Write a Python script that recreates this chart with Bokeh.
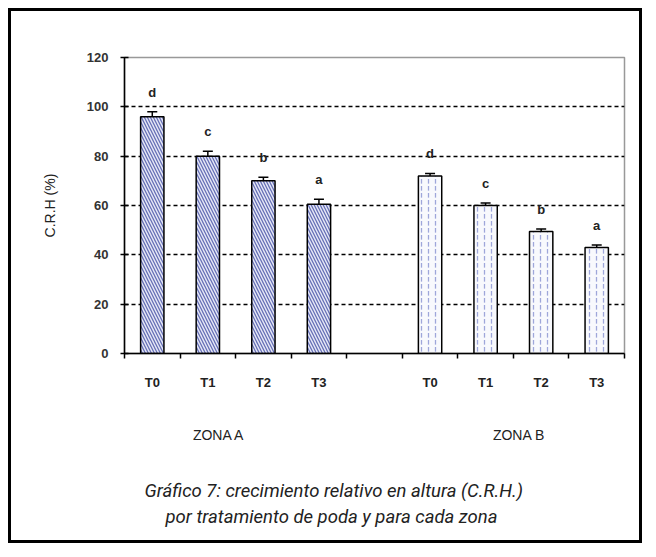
from bokeh.plotting import figure
from bokeh.models import Range1d, FixedTicker, Whisker, ColumnDataSource, TeeHead, LinearAxis, Title
from bokeh.embed import file_html
from bokeh.resources import INLINE
from bokeh.core.properties import value

treatments = ["T0", "T1", "T2", "T3"]
zona_a = [96, 80, 70, 60.5]
zona_b = [72, 60, 49.5, 43]
err_a = [2, 2, 1.5, 2]
err_b = [1, 1, 1, 1]
letters = ["d", "c", "b", "a"]
zones = ["ZONA A", "ZONA B"]
zone_pos = [1.7, 7.1]
y_ticks = [0, 20, 40, 60, 80, 100, 120]
grid_ticks = [20, 40, 60, 80, 100]
y_label = "C.R.H (%)"
caption = ["Gráfico 7: crecimiento relativo en altura (C.R.H.)",
           "por tratamiento de poda y para cada zona"]

# slot positions: zone A slots 0..3, empty slot 4, zone B slots 5..8
xa = [i + 0.5 for i in range(4)]
xb = [i + 5.5 for i in range(4)]

p = figure(width=634, height=535, output_backend="svg", toolbar_location=None,
           x_range=Range1d(0, 9), y_range=Range1d(0, 120),
           min_border_left=113, min_border_top=46, min_border_right=21, min_border_bottom=193)
p.styles = {"border": "3px solid black", "margin": "8px"}
p.outline_line_color = "#999999"
p.outline_line_width = 1.5

src_a = ColumnDataSource(dict(x=xa, top=zona_a, upper=[v + e for v, e in zip(zona_a, err_a)],
                              lower=[v - e for v, e in zip(zona_a, err_a)], lab=letters))
src_b = ColumnDataSource(dict(x=xb, top=zona_b, upper=[v + e for v, e in zip(zona_b, err_b)],
                              lower=[v - e for v, e in zip(zona_b, err_b)], lab=letters))

p.vbar(x="x", top="top", bottom=0, width=0.42, source=src_a,
       fill_color="#e6e8f6", hatch_pattern="\\", hatch_color="#6670b6",
       hatch_scale=6, hatch_weight=1.3, line_color="black", line_width=1.5)
p.vbar(x="x", top="top", bottom=0, width=0.42, source=src_b,
       fill_color="#f8f9fd", hatch_pattern=":", hatch_color="#9ea6da",
       hatch_scale=7, hatch_weight=1.3, line_color="black", line_width=1.5)

for src in (src_a, src_b):
    p.add_layout(Whisker(source=src, base="x", upper="upper", lower="lower",
                         line_color="black", line_width=1.5,
                         upper_head=TeeHead(size=10, line_width=1.5),
                         lower_head=TeeHead(size=10, line_width=1.5)))
    p.text(x="x", y="upper", text="lab", source=src, y_offset=-12,
           text_align="center", text_baseline="bottom",
           text_font=value("Liberation Sans"), text_font_style="bold",
           text_font_size="13px", text_color="#222222")

p.xgrid.grid_line_color = None
p.ygrid.ticker = FixedTicker(ticks=grid_ticks)
p.ygrid.grid_line_color = "black"
p.ygrid.grid_line_dash = "4 3"
p.ygrid.grid_line_width = 1.5

p.yaxis.ticker = FixedTicker(ticks=y_ticks)
p.yaxis.axis_label = y_label
p.yaxis.axis_label_standoff = 26
p.yaxis.axis_label_text_font = "Liberation Sans"
p.yaxis.axis_label_text_font_style = "normal"
p.yaxis.axis_label_text_font_size = "14px"
p.yaxis.axis_label_text_color = "#222222"
p.yaxis.major_label_text_font = "Liberation Sans"
p.yaxis.major_label_text_font_size = "13px"
p.yaxis.major_label_text_font_style = "bold"
p.yaxis.major_label_text_color = "#333333"
p.yaxis.major_tick_in = 4
p.yaxis.major_tick_out = 4
p.yaxis.major_tick_line_width = 1.5
p.yaxis.minor_tick_line_color = None
p.yaxis.axis_line_width = 1.5
p.yaxis.major_label_standoff = 12

p.xaxis.ticker = FixedTicker(ticks=xa + xb, minor_ticks=list(range(10)))
p.xaxis.major_label_overrides = {x: t for x, t in zip(xa + xb, treatments + treatments)}
p.xaxis.major_tick_line_color = None
p.xaxis.minor_tick_line_color = "black"
p.xaxis.minor_tick_line_width = 1.5
p.xaxis.minor_tick_out = 5
p.xaxis.minor_tick_in = 0
p.xaxis.major_label_standoff = 15
p.xaxis.major_label_text_font = "Liberation Sans"
p.xaxis.major_label_text_font_style = "bold"
p.xaxis.major_label_text_font_size = "13px"
p.xaxis.major_label_text_color = "#222222"
p.xaxis.axis_line_width = 1.5

zaxis = LinearAxis(ticker=FixedTicker(ticks=zone_pos),
                   major_label_overrides={x: t for x, t in zip(zone_pos, zones)},
                   axis_line_color=None, major_tick_line_color=None,
                   major_tick_out=0, major_tick_in=0, minor_tick_line_color=None,
                   minor_tick_out=0, minor_tick_in=0,
                   major_label_standoff=34, major_label_text_font="Liberation Sans",
                   major_label_text_font_size="14px", major_label_text_color="#222222")
p.add_layout(zaxis, "below")

# spacer between zone labels and caption
p.add_layout(Title(text=" ", standoff=18, text_font_size="10px"), "below")
for i, ct in enumerate(caption):
    p.add_layout(Title(text=ct, align="left", offset=(20 if i == 0 else 41),
                       standoff=2, vertical_align="bottom",
                       text_font="Roboto", text_font_style="italic",
                       text_font_size="18.5px", text_color="#222222"), "below")

open("out.html", "w").write(file_html(p, INLINE))
